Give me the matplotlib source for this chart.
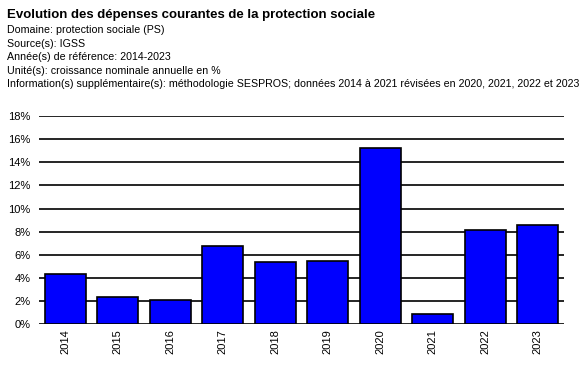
import matplotlib
matplotlib.use("Agg")
import matplotlib.pyplot as plt
from matplotlib.ticker import FuncFormatter

plt.rcParams["font.family"] = ["Liberation Sans", "DejaVu Sans"]

years = ["2014", "2015", "2016", "2017", "2018", "2019", "2020", "2021", "2022", "2023"]
growth = [4.35, 2.34, 2.07, 6.77, 5.36, 5.45, 15.22, 0.86, 8.13, 8.56]

title = "Evolution des dépenses courantes de la protection sociale"
info_lines = [
    "Domaine: protection sociale (PS)",
    "Source(s): IGSS",
    "Année(s) de référence: 2014-2023",
    "Unité(s): croissance nominale annuelle en %",
    "Information(s) supplémentaire(s): méthodologie SESPROS; données 2014 à 2021 révisées en 2020, 2021, 2022 et 2023",
]

W, H = 587, 366
fig = plt.figure(figsize=(W / 100, H / 100), dpi=100)
ax = fig.add_axes([39 / W, 1 - 324.3 / H, (564 - 39) / W, (324.3 - 116) / H])

x = range(len(years))
ax.bar(x, growth, width=0.78, color="#0000ff", edgecolor="black", linewidth=1.2, zorder=3)

ax.set_xlim(-0.5, len(years) - 0.5)
ax.set_ylim(0, 18)
ax.set_yticks(range(0, 19, 2))
ax.yaxis.set_major_formatter(FuncFormatter(lambda v, p: f"{v:.0f}%"))
ax.grid(axis="y", color="black", linewidth=1.2, zorder=0)
for s in ax.spines.values():
    s.set_visible(False)
ax.tick_params(axis="both", length=0, labelsize=8)
ax.tick_params(axis="y", pad=6)
ax.set_xticks(list(x))
ax.set_xticklabels(years, rotation=90)

fig.text(7 / W, 1 - 15 / H, title, fontsize=9.5, fontweight="bold", va="center")
for i, line in enumerate(info_lines):
    fig.text(7 / W, 1 - (30 + i * 13.6) / H, line, fontsize=7.65, va="center")

fig.savefig("out.png", dpi=100)
